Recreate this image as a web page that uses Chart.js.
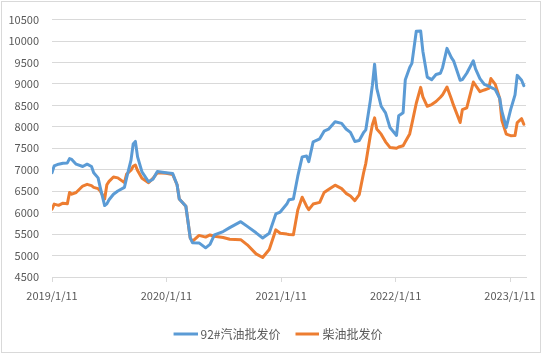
<!DOCTYPE html>
<html>
<head>
<meta charset="utf-8">
<script src="https://cdn.jsdelivr.net/npm/chart.js@4.4.0/dist/chart.umd.min.js"></script>
<style>
  html, body { margin: 0; padding: 0; background: #fff; }
  #wrap { width: 544px; height: 357px; position: relative; }
</style>
</head>
<body>
<div id="wrap"><canvas id="chart"></canvas></div>
<script>
// week number counted from 2019/1/11
const weeks = [0, 1, 3, 5, 7, 8, 9, 11, 14, 16, 18, 19, 21, 22, 24, 25, 26, 28, 30, 33,
  34, 36, 37, 38, 39, 41, 44, 46, 48, 52, 55, 57, 58, 61, 63, 64, 67, 70, 72, 74,
  78, 81, 86, 89, 93, 96, 99, 102, 104, 107, 108, 110, 112, 114, 116, 117, 119, 122, 124, 126,
  129, 132, 134, 136, 138, 140, 142, 143, 145, 146, 147, 148, 150, 152, 154, 157, 158, 160, 161, 163,
  164, 166, 168, 169, 171, 173, 175, 177, 178, 180, 182, 183, 186, 187, 189, 192, 193, 195, 197, 199,
  200, 202, 204, 205, 207, 209, 211, 212, 214, 215];

const gasoline92 = [6930, 7090, 7130, 7150, 7160, 7260, 7240, 7130, 7075, 7130, 7075, 6930, 6810, 6585, 6165, 6205, 6300, 6430, 6505, 6590,
  6810, 7225, 7600, 7660, 7300, 6950, 6720, 6780, 6960, 6930, 6910, 6650, 6320, 6150, 5410, 5300, 5295, 5180, 5260, 5480,
  5560, 5650, 5790, 5680, 5530, 5410, 5520, 5970, 6015, 6200, 6300, 6320, 6850, 7300, 7320, 7190, 7650, 7720, 7900, 7945,
  8120, 8080, 7950, 7870, 7660, 7680, 7870, 7930, 8590, 8970, 9460, 8895, 8480, 8325, 7985, 7800, 8260, 8330, 9100, 9385,
  9480, 10230, 10235, 9765, 9160, 9100, 9220, 9250, 9385, 9830, 9615, 9540, 9085, 9100, 9250, 9540, 9350, 9125, 8990, 8950,
  8920, 8870, 8665, 8365, 7985, 8400, 8745, 9200, 9085, 8960];

const diesel = [6080, 6200, 6170, 6220, 6210, 6470, 6430, 6470, 6620, 6660, 6630, 6590, 6560, 6505, 6320, 6650, 6730, 6830, 6810, 6700,
  6900, 6990, 7080, 7110, 6980, 6800, 6700, 6800, 6930, 6920, 6890, 6650, 6320, 6150, 5410, 5330, 5470, 5430, 5480, 5450,
  5420, 5380, 5370, 5250, 5040, 4955, 5140, 5600, 5520, 5500, 5490, 5485, 6060, 6360, 6150, 6070, 6200, 6240, 6470, 6540,
  6640, 6560, 6450, 6390, 6280, 6420, 6930, 7150, 7780, 8050, 8210, 7950, 7830, 7650, 7520, 7500, 7530, 7560, 7650, 7835,
  8070, 8550, 8920, 8700, 8480, 8520, 8590, 8690, 8750, 8930, 8650, 8500, 8100, 8400, 8445, 9045, 8970, 8820, 8860, 8895,
  9125, 8990, 8665, 8150, 7830, 7795, 7800, 8100, 8190, 8060];

// x axis labels, in days from 2019/1/11
const tickDays = [0, 365, 731, 1096, 1461];
const tickLabels = ['2019/1/11', '2020/1/11', '2021/1/11', '2022/1/11', '2023/1/11'];

const seriesNames = ['92#汽油批发价', '柴油批发价'];
const blue = '#5b9bd5';
const orange = '#ed7d31';
const font = '"Noto Sans CJK SC", "Noto Sans", sans-serif';

const toPoints = vals => vals.map((v, i) => ({ x: weeks[i] * 7, y: v }));

// legend swatch: a short line, sitting close to its text like in Excel
function swatch(color) {
  const c = document.createElement('canvas');
  c.width = 27;
  c.height = 4;
  const g = c.getContext('2d');
  g.strokeStyle = color;
  g.lineWidth = 3;
  g.beginPath();
  g.moveTo(3, 2);
  g.lineTo(27, 2);
  g.stroke();
  return c;
}

const frame = {
  id: 'frame',
  beforeDraw(chart) {
    const c = chart.ctx;
    c.save();
    c.fillStyle = '#fff';
    c.fillRect(0, 0, chart.width, chart.height);
    c.strokeStyle = '#d9d9d9';
    c.lineWidth = 1;
    c.strokeRect(1.5, 1.5, 539, 351);
    c.restore();
  },
  afterLayout(chart) {
    chart.legend.left += 15;
    chart.legend.right += 15;
  }
};

new Chart(document.getElementById('chart'), {
  type: 'line',
  data: {
    datasets: [{
      label: seriesNames[0],
      data: toPoints(gasoline92),
      borderColor: blue,
      backgroundColor: blue,
      borderWidth: 3,
      pointRadius: 0,
      pointStyle: swatch(blue),
      tension: 0,
      borderJoinStyle: 'round',
      borderCapStyle: 'round'
    }, {
      label: seriesNames[1],
      data: toPoints(diesel),
      borderColor: orange,
      backgroundColor: orange,
      borderWidth: 3,
      pointRadius: 0,
      pointStyle: swatch(orange),
      tension: 0,
      borderJoinStyle: 'round',
      borderCapStyle: 'round'
    }]
  },
  options: {
    responsive: true,
    maintainAspectRatio: false,
    animation: false,
    devicePixelRatio: 1,
    layout: { padding: { left: 0, right: 18, top: 16, bottom: 7 } },
    scales: {
      x: {
        type: 'linear',
        min: 0,
        max: 1512,
        afterBuildTicks: scale => { scale.ticks = tickDays.map(d => ({ value: d })); },
        afterFit: scale => { scale.height = 36; },
        grid: { drawOnChartArea: false, drawTicks: true, tickLength: 5, color: '#d9d9d9' },
        border: { color: '#d9d9d9' },
        ticks: {
          padding: 7,
          maxRotation: 0,
          autoSkip: false,
          color: '#595959',
          font: { family: font, size: 11 },
          callback: v => tickLabels[tickDays.indexOf(v)]
        }
      },
      y: {
        min: 4500,
        max: 10500,
        afterFit: scale => { scale.width = 52; },
        grid: { color: '#d9d9d9', drawTicks: false },
        border: { display: false },
        ticks: {
          stepSize: 500,
          padding: 13,
          color: '#595959',
          font: { family: font, size: 11 },
          callback: v => String(v)
        }
      }
    },
    plugins: {
      legend: {
        position: 'bottom',
        labels: {
          usePointStyle: true,
          pointStyleWidth: 21,
          padding: 15,
          color: '#595959',
          font: { family: font, size: 12 }
        }
      },
      tooltip: { enabled: false }
    }
  },
  plugins: [frame]
});
</script>
</body>
</html>
